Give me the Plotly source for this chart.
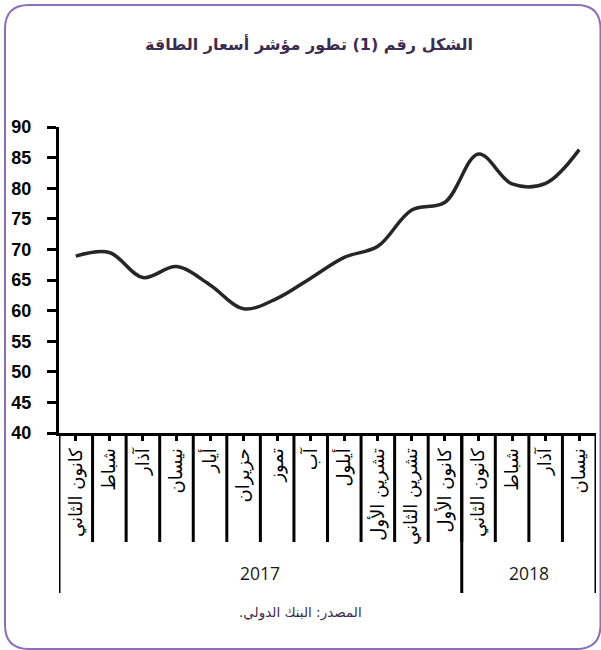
import plotly.graph_objects as go

# ---- data ----
months = ["كانون الثاني", "شباط", "آذار", "نيسان", "أيار", "حزيران", "تموز", "آب",
          "أيلول", "تشرين الأول", "تشرين الثاني", "كانون الأول",
          "كانون الثاني", "شباط", "آذار", "نيسان"]
years = ["2017", "2018"]
year_counts = [12, 4]
index_values = [68.9, 69.5, 65.4, 67.2, 64.2, 60.3, 62.0, 65.3,
                68.7, 70.5, 76.4, 77.7, 85.6, 80.7, 80.8, 86.3]
y_ticks = [40, 45, 50, 55, 60, 65, 70, 75, 80, 85, 90]

title_text = "الشكل رقم (1) تطور مؤشر أسعار الطاقة"
source_text = "المصدر: البنك الدولي.\u200f"

# ---- layout geometry ----
W, H = 601, 650
ML, MR, MT, MB = 59, 5, 127, 217
PW = W - ML - MR
PH = H - MT - MB

def xp(px):
    return (px - ML) / PW

def yp(py):
    return 1 - (py - MT) / PH

purple = "#8c6fba"
dark = "#3b2d4f"

xs = list(range(len(months)))

fig = go.Figure()
fig.add_trace(go.Scatter(
    x=xs, y=index_values, mode="lines",
    line=dict(color="#262626", width=3.5, shape="spline", smoothing=1.0),
    hoverinfo="skip", showlegend=False,
))

shapes = []
# month separators
for i in range(1, len(months)):
    shapes.append(dict(type="line", xref="x", yref="paper",
                       x0=i - 0.5, x1=i - 0.5, y0=0, y1=yp(542),
                       line=dict(color="black", width=3)))
# year separators
bounds = [0]
for c in year_counts:
    bounds.append(bounds[-1] + c)
for b in bounds:
    shapes.append(dict(type="line", xref="x", yref="paper",
                       x0=b - 0.5, x1=b - 0.5, y0=0, y1=yp(593),
                       line=dict(color="black", width=3)))

# rounded frame
x0, y0, x1, y1, r = 5, 5, 600.5, 649, 24
def P(px, py):
    return f"{xp(px):.5f},{yp(py):.5f}"
path = (f"M {P(x0 + r, y0)} L {P(x1 - r, y0)} Q {P(x1, y0)} {P(x1, y0 + r)} "
        f"L {P(x1, y1 - r)} Q {P(x1, y1)} {P(x1 - r, y1)} "
        f"L {P(x0 + r, y1)} Q {P(x0, y1)} {P(x0, y1 - r)} "
        f"L {P(x0, y0 + r)} Q {P(x0, y0)} {P(x0 + r, y0)} Z")
shapes.append(dict(type="path", xref="paper", yref="paper", path=path,
                   line=dict(color=purple, width=2)))

annotations = []
for k, yr in enumerate(years):
    center = (bounds[k] + bounds[k + 1] - 1) / 2
    annotations.append(dict(x=center, y=yp(573), xref="x", yref="paper",
                            xanchor="center", yanchor="middle",
                            text=yr, showarrow=False,
                            font=dict(family="Open Sans", size=17.5, color="#1a1a1a")))
annotations.append(dict(x=xp(300), y=yp(612), xref="paper", yref="paper",
                        xanchor="center", yanchor="middle",
                        text=source_text, showarrow=False,
                        font=dict(family="DejaVu Sans", size=13.5, color=dark)))
annotations.append(dict(x=xp(309), y=yp(44), xref="paper", yref="paper",
                        xanchor="center", yanchor="middle",
                        text="<b>" + title_text + "</b>", showarrow=False,
                        font=dict(family="DejaVu Sans", size=16, color=dark)))

fig.update_layout(
    width=W, height=H,
    margin=dict(l=ML, r=MR, t=MT, b=MB, pad=0),
    paper_bgcolor="white", plot_bgcolor="white",
    shapes=shapes, annotations=annotations,
    xaxis=dict(range=[-0.5, len(months) - 0.5], tickmode="array",
               tickvals=xs, ticktext=months, tickangle=-90,
               ticks="outside", ticklen=5, tickwidth=3, tickcolor="black",
               showline=True, linewidth=3, linecolor="black",
               showgrid=False, zeroline=False,
               tickfont=dict(family="DejaVu Sans", size=18, color="black")),
    yaxis=dict(range=[40, 90], tickmode="array", tickvals=y_ticks,
               ticks="outside", ticklen=9, tickwidth=3, tickcolor="black",
               showline=True, linewidth=3, linecolor="black",
               showgrid=False, zeroline=False, ticklabelstandoff=12,
               tickfont=dict(family="Liberation Sans", size=18, color="black",
                             weight="bold")),
)

fig.write_html("out.html", config={"displayModeBar": False},
               post_script="document.body.style.margin='0';")
